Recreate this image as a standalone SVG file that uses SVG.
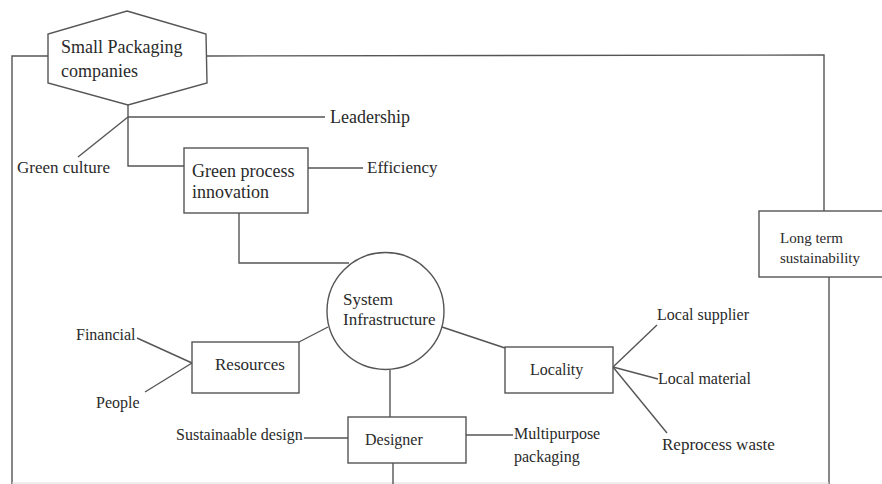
<svg xmlns="http://www.w3.org/2000/svg" width="882" height="484" viewBox="0 0 882 484">
<style>
.ln{stroke:#555;stroke-width:1.4;fill:none}
.bx{stroke:#555;stroke-width:1.4;fill:#fff}
.t{font-family:"Liberation Serif","Times New Roman",serif;font-size:16px;fill:#2a2a2a}
.l{font-size:18px}
.m{font-size:17px}
.s{font-size:15px}
</style>
<rect width="882" height="484" fill="#fff"/>
<g id="connectors">
<polyline class="ln" points="48,56 12,56 12,484"/>
<polyline class="ln" points="207,56 824,55 824,211"/>
<line class="ln" x1="829" y1="277" x2="829" y2="484"/>
<line x1="12" y1="483" x2="829" y2="483" stroke="#ddd" stroke-width="1.2"/>
<polyline class="ln" points="128,105 128,117 325,117"/>
<line class="ln" x1="128" y1="117" x2="78" y2="157"/>
<polyline class="ln" points="128,117 128,166 184,166"/>
<line class="ln" x1="308" y1="168" x2="363" y2="168"/>
<polyline class="ln" points="239,213 239,263 349,263"/>
<line class="ln" x1="299" y1="342" x2="328" y2="327"/>
<line class="ln" x1="137" y1="338" x2="192" y2="363"/>
<line class="ln" x1="145" y1="392" x2="192" y2="363"/>
<line class="ln" x1="390" y1="370" x2="390" y2="417"/>
<line class="ln" x1="393" y1="463" x2="393" y2="484"/>
<line class="ln" x1="304" y1="438" x2="348" y2="438"/>
<line class="ln" x1="466" y1="435" x2="513" y2="435"/>
<line class="ln" x1="442" y1="327" x2="505" y2="348"/>
<line class="ln" x1="613" y1="367" x2="657" y2="325"/>
<line class="ln" x1="613" y1="367" x2="658" y2="379"/>
<line class="ln" x1="613" y1="367" x2="667" y2="433"/>
</g>
<g id="small-packaging">
<polygon class="bx" points="127,11 206,34 207,83 128,105 48,83 48,34"/>
<text class="t l" x="61" y="53">Small Packaging</text>
<text class="t l" x="61" y="77">companies</text>
</g>
<g id="green-culture"><text class="t m" x="17" y="173">Green culture</text></g>
<g id="leadership"><text class="t l" x="330" y="123">Leadership</text></g>
<g id="green-process">
<rect class="bx" x="184" y="148" width="124" height="65"/>
<text class="t l" x="192" y="177">Green process</text>
<text class="t l" x="192" y="198">innovation</text>
</g>
<g id="efficiency"><text class="t m" x="367" y="173">Efficiency</text></g>
<g id="long-term">
<rect class="bx" x="759" y="211" width="130" height="66"/>
<text class="t s" x="780" y="243">Long term</text>
<text class="t s" x="780" y="263">sustainability</text>
</g>
<g id="system-infrastructure">
<circle class="bx" cx="385.5" cy="311" r="58.5"/>
<text class="t m" x="343" y="305">System</text>
<text class="t m" x="343" y="325">Infrastructure</text>
</g>
<g id="resources">
<rect class="bx" x="192" y="342" width="107" height="51"/>
<text class="t m" x="215" y="370">Resources</text>
</g>
<g id="financial"><text class="t" x="76" y="340">Financial</text></g>
<g id="people"><text class="t" x="96" y="408">People</text></g>
<g id="locality">
<rect class="bx" x="505" y="347" width="108" height="46"/>
<text class="t" x="530" y="375">Locality</text>
</g>
<g id="local-supplier"><text class="t" x="657" y="320">Local supplier</text></g>
<g id="local-material"><text class="t" x="658" y="384">Local material</text></g>
<g id="reprocess-waste"><text class="t m" x="662" y="450">Reprocess waste</text></g>
<g id="designer">
<rect class="bx" x="348" y="417" width="118" height="46"/>
<text class="t" x="365" y="445">Designer</text>
</g>
<g id="sustainable-design"><text class="t" x="176" y="440">Sustainaable design</text></g>
<g id="multipurpose">
<text class="t" x="514" y="439">Multipurpose</text>
<text class="t" x="514" y="462">packaging</text>
</g>
</svg>
